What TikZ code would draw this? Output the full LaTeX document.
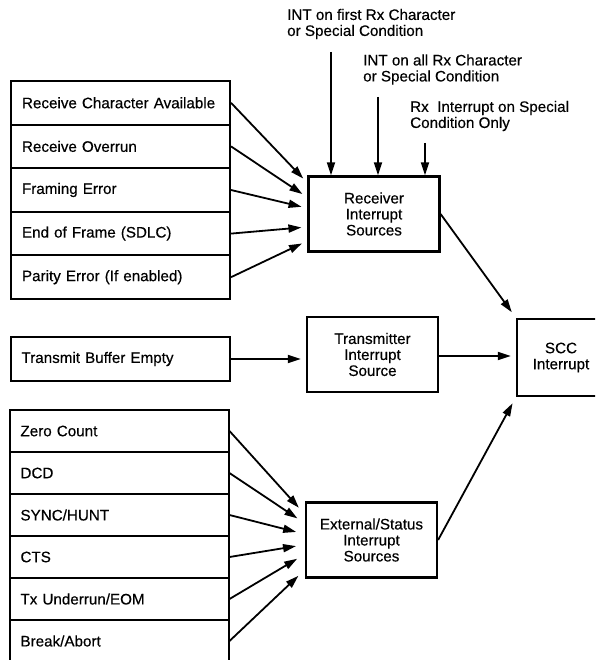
\documentclass[tikz,border=0pt]{standalone}
\usepackage{fontspec}
\setmainfont{Liberation Sans}[FakeBold=0.4]
\usetikzlibrary{arrows.meta,positioning}

\begin{document}
\begin{tikzpicture}[x=1pt,y=-1pt,
	every node/.style={font=\fontsize{15.2}{16}\selectfont},
	row/.style={draw,line width=2pt,rectangle,text width=197pt,inner xsep=11pt,inner ysep=0pt,align=left},
	src/.style={draw,line width=2.2pt,rectangle,minimum width=131pt,minimum height=75pt,inner sep=0pt,align=center},
	lbl/.style={anchor=west,align=left,inner sep=0pt},
	arr/.style={line width=1.8pt,-{Triangle[length=13pt,width=8pt]}}]
	\useasboundingbox (0,0) rectangle (595,660);
	\clip (0,0) rectangle (595,660);
	\def\rh{43.6}
	\def\eh{42}

	% interrupt sources
	\node[src] (rcv) at (374,214) {Receiver\\Interrupt\\Sources};
	\node[src] (txs) at (372.5,354.5) {Transmitter\\Interrupt\\Source};
	\node[src] (ext) at (371.5,540) {External/Status\\Interrupt\\Sources};
	\node[src,minimum width=88pt,minimum height=77pt] (scc) at (561,357.5) {SCC\\Interrupt};

	% receive conditions
	\foreach \t [count=\i] in {Receive Character Available,Receive Overrun,Framing Error,End of Frame (SDLC),Parity Error (If enabled)} {
		\node[row,minimum height=\rh pt] (rx\i) at (120.5, 81+\rh*\i-\rh/2) {\t};
	}
	\foreach \i/\a in {1/155,2/166,3/175,4/191,5/202} {
		\draw[arr,shorten >=6pt] (rx\i.east) -- (rcv.\a);
	}

	% rx interrupt modes
	\node[lbl] (int1) at (287,24) {INT on first Rx Character\\or Special Condition};
	\node[lbl] (int2) at (363,69.5) {INT on all Rx Character\\or Special Condition};
	\node[lbl] (int3) at (410,116) {Rx~~Interrupt on Special\\Condition Only};
	\coordinate (t1) at (331,52);
	\coordinate (t2) at (378,97);
	\coordinate (t3) at (425,143);
	\foreach \c in {t1,t2,t3} {
		\draw[arr] (\c) -- (\c |- rcv.north);
	}

	% transmit
	\node[row,minimum height=44pt] (txb) at (120,359) {Transmit Buffer Empty};
	\draw[arr,shorten >=5pt] (txb.east) -- (txb.east -| txs.west);

	% external/status conditions
	\foreach \t [count=\i] in {Zero Count,DCD,SYNC/HUNT,CTS,Tx Underrun/EOM,Break/Abort} {
		\node[row,minimum height=\eh pt] (es\i) at (119, 410+\eh*\i-\eh/2) {\t};
	}
	\foreach \i/\a in {1/159,2/166,3/175,4/184,5/192,6/204} {
		\draw[arr,shorten >=9pt] (es\i.east) -- (ext.\a);
	}

	% to the scc
	\draw[arr,shorten >=7pt] (rcv.east) -- (scc.north west);
	\draw[arr,shorten >=5pt] ([yshift=-1.5pt]txs.east) -- ([yshift=-1.5pt]txs.east -| scc.west);
	\draw[arr,shorten >=7pt] (ext.east) -- (scc.south west);
\end{tikzpicture}
\end{document}
